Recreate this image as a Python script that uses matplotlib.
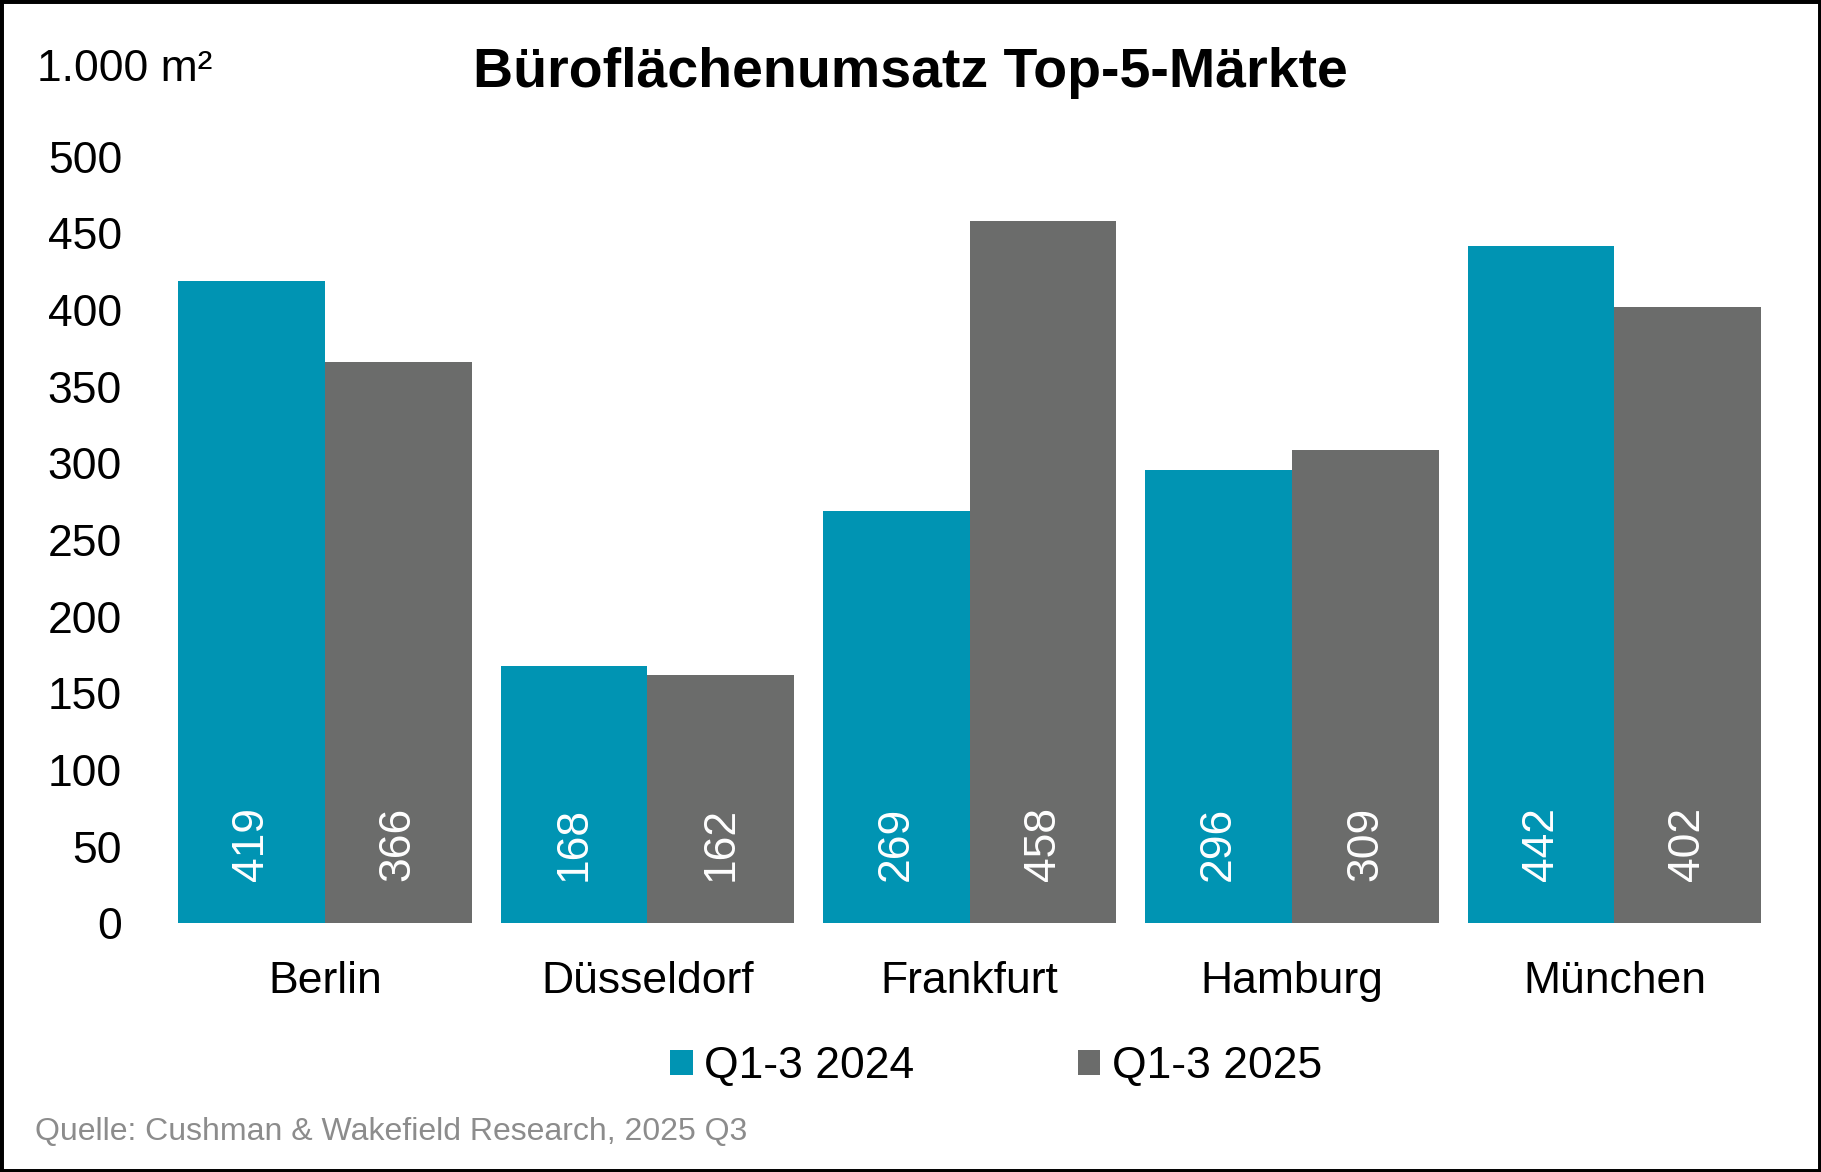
from matplotlib import pyplot as plt
from matplotlib.patches import Patch, Rectangle
import numpy as np

plt.rcParams['font.family'] = ['Liberation Sans', 'DejaVu Sans']

# Data
Cities = ['Berlin', 'Düsseldorf', 'Frankfurt', 'Hamburg', 'München']
Q13_2024 = [419, 168, 269, 296, 442]
Q13_2025 = [366, 162, 458, 309, 402]
Series_Name = ['Q1-3 2024', 'Q1-3 2025']
y_ticks = [0, 50, 100, 150, 200, 250, 300, 350, 400, 450, 500]

teal = '#0094b3'
grey = '#6b6c6b'

fig = plt.figure(figsize=(18.21, 11.72), dpi=100)
ax = fig.add_axes([0.0899, 0.2121, 0.8852, 0.6541])

x = np.arange(len(Cities))
w = 0.455
bars1 = ax.bar(x - w/2, Q13_2024, width=w, color=teal)
bars2 = ax.bar(x + w/2, Q13_2025, width=w, color=grey)

# value labels, rotated, near the bottom of each bar
for xs, vals in [(x - w/2, Q13_2024), (x + w/2, Q13_2025)]:
    for xi, v in zip(xs, vals):
        ax.text(xi, 52, str(v), rotation=90, ha='center', va='center',
                color='white', fontsize=32)

ax.set_xlim(-0.5, len(Cities) - 0.5)
ax.set_ylim(0, 500)
ax.set_yticks(y_ticks)
ax.set_xticks(x)
ax.set_xticklabels(Cities)
ax.tick_params(axis='y', length=0, pad=30, labelsize=32)
ax.tick_params(axis='x', length=0, pad=27, labelsize=32)
for sp in ax.spines.values():
    sp.set_visible(False)

fig.text(0.5, 0.9375, 'Büroflächenumsatz Top-5-Märkte', ha='center', va='center',
         fontsize=40, fontweight='bold')
fig.text(0.0204, 0.9405, '1.000 m²', ha='left', va='center', fontsize=32)
fig.text(0.0191, 0.034, 'Quelle: Cushman & Wakefield Research, 2025 Q3',
         ha='left', va='center', fontsize=23, color='#8c8c8c')

handles = [Patch(facecolor=teal, label=Series_Name[0]),
           Patch(facecolor=grey, label=Series_Name[1])]
fig.legend(handles=handles, loc='center', bbox_to_anchor=(0.547, 0.090), ncol=2,
           frameon=False, fontsize=32, handlelength=0.5, handleheight=0.5,
           handletextpad=0.25, columnspacing=3.7)

fig.add_artist(Rectangle((0, 0), 1, 1, transform=fig.transFigure, fill=False,
                         edgecolor='black', lw=5))

plt.savefig('out.png', dpi=100)
